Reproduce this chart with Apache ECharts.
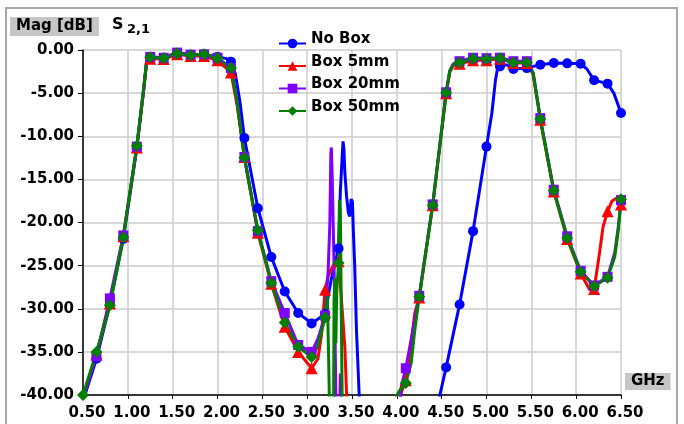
<!DOCTYPE html>
<html>
<head>
<meta charset="utf-8">
<script src="https://cdn.jsdelivr.net/npm/echarts@6/dist/echarts.min.js"></script>
<style>
  html, body { margin: 0; padding: 0; background: #fff; }
  #chart { width: 684px; height: 424px; }
</style>
</head>
<body>
<div id="chart"></div>
<script>
// S2,1 magnitude (dB) vs frequency (GHz)
const seriesNames = ['No Box', 'Box 5mm', 'Box 20mm', 'Box 50mm']

const noBoxF = [0.50, 0.65, 0.80, 0.95, 1.10, 1.175, 1.21, 1.25, 1.40, 1.55, 1.70, 1.85, 2.00, 2.10, 2.15, 2.20, 2.25, 2.30,
  2.45, 2.60, 2.75, 2.90, 3.05, 3.20, 3.27, 3.35, 3.37, 3.39, 3.40, 3.41, 3.42, 3.44, 3.46, 3.475, 3.49, 3.505, 3.515, 3.53,
  3.55, 3.58, 3.60, 3.65, 3.80, 3.95, 4.10, 4.25, 4.40, 4.45, 4.48, 4.55, 4.70, 4.85, 5.00, 5.06, 5.10, 5.13, 5.15, 5.23,
  5.30, 5.45, 5.60, 5.75, 5.90, 6.05, 6.12, 6.20, 6.35, 6.42, 6.50]
const noBoxDb = [-40.7, -35.8, -29.5, -21.9, -11.4, -4.8, -1.3, -0.8, -0.9, -0.35, -0.55, -0.5, -0.8, -1.0, -1.35, -2.8, -6.0, -10.2,
  -18.35, -24.0, -28.0, -30.5, -31.7, -30.6, -26.5, -23.0, -16.4, -12.5, -10.6, -11.5, -14.2, -17.0, -18.9, -19.3, -17.3, -17.6, -21.0, -25.0,
  -32.5, -40.0, -45, -48, -48, -48, -48, -48, -48, -45, -40.0, -36.8, -29.5, -21.0, -11.2, -7.3, -3.5, -1.7, -1.9, -1.75,
  -2.2, -2.1, -1.7, -1.5, -1.55, -1.6, -2.2, -3.5, -3.9, -5.0, -7.3]

const box5F = [0.50, 0.65, 0.80, 0.95, 1.10, 1.175, 1.21, 1.25, 1.40, 1.55, 1.70, 1.85, 2.00, 2.15, 2.22, 2.30,
  2.45, 2.60, 2.75, 2.90, 3.05, 3.12, 3.16, 3.20, 3.235, 3.27, 3.31, 3.35, 3.38, 3.42, 3.44, 3.46, 3.50, 3.65, 3.80, 3.95,
  4.00, 4.04, 4.10, 4.155, 4.20, 4.25, 4.40, 4.55, 4.59, 4.63, 4.70, 4.85, 5.00, 5.15, 5.30, 5.45, 5.52, 5.60, 5.75,
  5.90, 6.05, 6.15, 6.20, 6.25, 6.30, 6.35, 6.40, 6.45, 6.50]
const box5Db = [-40.3, -35.3, -29.4, -21.6, -11.3, -4.8, -1.5, -1.0, -1.05, -0.5, -0.7, -0.7, -1.2, -2.6, -6.5, -12.4,
  -21.2, -27.1, -32.1, -35.0, -36.9, -35.8, -33.0, -27.8, -26.2, -25.4, -24.6, -24.5, -28.6, -34.4, -40.0, -46, -48, -48, -48, -48,
  -46, -40.0, -38.3, -34.4, -30.5, -28.7, -18.0, -5.0, -2.6, -1.8, -1.6, -1.2, -1.2, -1.0, -1.5, -1.5, -2.8, -8.1, -16.4,
  -21.9, -25.9, -27.8, -27.7, -24.3, -20.5, -18.7, -17.5, -17.2, -17.9]

const box20F = [0.50, 0.65, 0.80, 0.95, 1.10, 1.175, 1.21, 1.25, 1.40, 1.55, 1.70, 1.85, 2.00, 2.15, 2.22, 2.30,
  2.45, 2.60, 2.75, 2.90, 3.05, 3.12, 3.20, 3.235, 3.253, 3.264, 3.27, 3.28, 3.29, 3.30, 3.31, 3.32, 3.33, 3.35, 3.36,
  3.37, 3.38, 3.40, 3.50, 3.65, 3.80, 3.95, 4.02, 4.05, 4.10, 4.25, 4.40, 4.55, 4.59, 4.63, 4.70, 4.85, 5.00, 5.15,
  5.30, 5.45, 5.52, 5.60, 5.75, 5.90, 6.05, 6.20, 6.35, 6.43, 6.47, 6.50]
const box20Db = [-40.2, -35.5, -28.8, -21.5, -11.2, -4.6, -1.2, -0.8, -0.9, -0.3, -0.55, -0.5, -0.9, -2.1, -6.0, -12.4,
  -21.0, -26.8, -30.5, -34.2, -35.0, -33.5, -30.8, -25.4, -20.0, -12.0, -11.3, -15.0, -20.0, -25.0, -32.5, -40.0, -46, -48, -44,
  -37.5, -44, -48, -48, -48, -48, -48, -44, -39.0, -36.9, -28.5, -17.9, -4.9, -2.4, -1.6, -1.3, -0.9, -0.95, -0.9,
  -1.3, -1.3, -2.6, -7.9, -16.2, -21.6, -25.6, -27.3, -26.3, -23.5, -20.5, -17.4]

const box50F = [0.50, 0.65, 0.80, 0.95, 1.10, 1.175, 1.21, 1.25, 1.40, 1.55, 1.70, 1.85, 2.00, 2.15, 2.21, 2.30,
  2.45, 2.60, 2.75, 2.90, 3.05, 3.12, 3.20, 3.225, 3.24, 3.25, 3.26, 3.285, 3.295, 3.30, 3.31, 3.32, 3.33, 3.35, 3.36,
  3.37, 3.38, 3.39, 3.40, 3.50, 3.65, 3.80, 3.95, 4.00, 4.05, 4.10, 4.16, 4.20, 4.25, 4.40, 4.55, 4.59, 4.63, 4.70,
  4.85, 5.00, 5.15, 5.30, 5.45, 5.52, 5.58, 5.60, 5.75, 5.90, 6.05, 6.20, 6.35, 6.43, 6.47, 6.50]
const box50Db = [-40.0, -35.0, -29.6, -21.7, -11.1, -4.6, -1.3, -0.85, -0.95, -0.4, -0.6, -0.5, -0.95, -2.1, -5.4, -12.5,
  -20.9, -27.0, -31.6, -34.4, -35.6, -34.3, -31.0, -28.5, -36.0, -42, -48, -48, -40.0, -29.0, -26.5, -34.0, -28.0, -24.7, -17.4,
  -18.5, -30.0, -40.0, -48, -48, -48, -48, -48, -40.0, -39.2, -38.6, -36.3, -32.5, -28.6, -18.0, -4.95, -2.5, -1.7, -1.45,
  -1.0, -1.05, -0.97, -1.45, -1.45, -2.7, -6.6, -8.0, -16.3, -21.8, -25.7, -27.4, -26.4, -24.0, -20.9, -17.3]

const colors = ['#0000ff', '#ff0000', '#8000ff', '#008000']
const symbols = ['circle', 'triangle', 'rect', 'diamond']
const symbolSizes = [10, 12, 10, 12]
const freqs = [noBoxF, box5F, box20F, box50F]
const mags = [noBoxDb, box5Db, box20Db, box50Db]

// markers sit every 0.15 GHz starting at 0.50
function isMarker (f) {
  const k = (f - 0.5) / 0.15
  return Math.abs(k - Math.round(k)) < 1e-6
}

const font = 'DejaVu Sans'
const myChart = echarts.init(document.getElementById('chart'), null, { renderer: 'canvas' })

const series = seriesNames.map((name, i) => ({
  name: name,
  type: 'line',
  symbol: symbols[i],
  symbolSize: symbolSizes[i],
  showAllSymbol: true,
  clip: true,
  lineStyle: { color: colors[i], width: 3 },
  itemStyle: { color: colors[i] },
  data: freqs[i].map((f, j) => isMarker(f)
    ? { value: [f, mags[i][j]] }
    : { value: [f, mags[i][j]], symbol: 'none' })
}))

myChart.setOption({
  animation: false,
  backgroundColor: '#fff',
  grid: {
    left: 83,
    top: 50,
    width: 538,
    height: 345
  },
  legend: {
    orient: 'vertical',
    left: 278,
    top: 32,
    padding: 0,
    itemWidth: 27,
    itemHeight: 12,
    itemGap: -0.5,
    data: seriesNames,
    formatter: name => '{a|' + name + '}',
    textStyle: {
      rich: {
        a: {
          fontFamily: font,
          fontWeight: 'bold',
          fontSize: 15,
          color: '#000',
          lineHeight: 16,
          padding: [0, 0, 8, 0]
        }
      }
    }
  },
  xAxis: {
    type: 'value',
    min: 0.5,
    max: 6.5,
    interval: 0.5,
    axisLine: { show: true, onZero: false, lineStyle: { color: '#000', width: 1.5 } },
    axisTick: { show: true, length: 4, lineStyle: { color: '#000' } },
    splitLine: { show: true, lineStyle: { color: '#cccccc', width: 1.5 } },
    axisLabel: {
      margin: 11,
      padding: [0, 0, 0, 8],
      fontFamily: font,
      fontWeight: 'bold',
      fontSize: 15,
      color: '#000',
      formatter: v => v.toFixed(2)
    }
  },
  yAxis: {
    type: 'value',
    min: -40,
    max: 0,
    interval: 5,
    axisLine: { show: true, lineStyle: { color: '#000', width: 1.5 } },
    axisTick: { show: true, length: 5, lineStyle: { color: '#000' } },
    splitLine: { show: true, lineStyle: { color: '#cccccc', width: 1.5 } },
    axisLabel: {
      margin: 9,
      fontFamily: font,
      fontWeight: 'bold',
      fontSize: 15,
      color: '#000',
      formatter: v => v.toFixed(2)
    }
  },
  graphic: [
    {
      type: 'rect',
      shape: { x: 6, y: 8, width: 671, height: 430 },
      style: { fill: 'none', stroke: '#a8a8a8', lineWidth: 2 },
      silent: true
    },
    {
      type: 'text',
      left: 10,
      top: 17,
      style: {
        text: 'Mag [dB]',
        fontFamily: font,
        fontWeight: 'bold',
        fontSize: 15,
        fill: '#000',
        backgroundColor: '#c6c6c6',
        padding: [2, 6, 2, 6]
      }
    },
    {
      type: 'text',
      left: 112,
      top: 17,
      style: { text: 'S', fontFamily: font, fontWeight: 'bold', fontSize: 16, fill: '#000' }
    },
    {
      type: 'text',
      left: 127,
      top: 23,
      style: { text: '2,1', fontFamily: font, fontWeight: 'bold', fontSize: 13, fill: '#000' }
    },
    {
      type: 'text',
      left: 625,
      top: 373,
      style: {
        text: 'GHz',
        fontFamily: font,
        fontWeight: 'bold',
        fontSize: 15,
        fill: '#000',
        backgroundColor: '#c6c6c6',
        padding: [1, 6, 1, 6]
      }
    }
  ],
  series: series
})
</script>
</body>
</html>
